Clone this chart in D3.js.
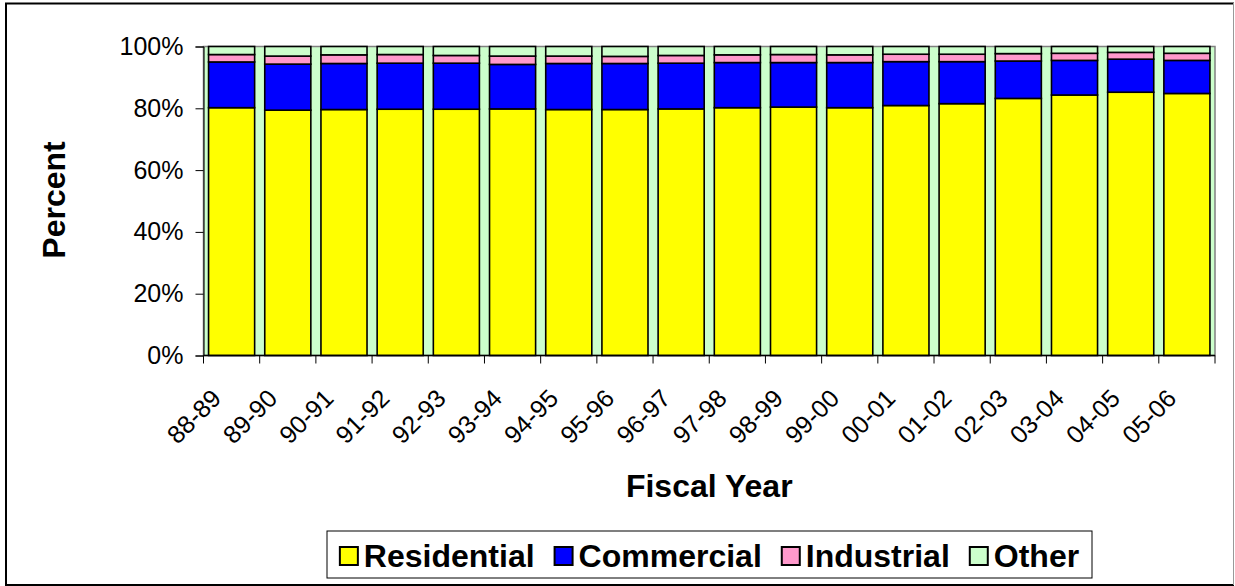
<!DOCTYPE html>
<html>
<head>
<meta charset="utf-8">
<script src="https://cdn.jsdelivr.net/npm/d3@7"></script>
<style>
  html, body { margin: 0; padding: 0; background: #fff; }
  svg { display: block; font-family: "Liberation Sans", Arial, sans-serif; }
</style>
</head>
<body>
<svg id="chart" width="1235" height="586"></svg>
<script>
// Share of accounts by customer class, per fiscal year (percent)
const years = ["88-89","89-90","90-91","91-92","92-93","93-94","94-95","95-96","96-97",
               "97-98","98-99","99-00","00-01","01-02","02-03","03-04","04-05","05-06"];
const residential = [80.2,79.4,79.6,79.7,79.7,79.8,79.6,79.6,79.8,80.2,80.4,80.2,80.9,81.5,83.2,84.3,85.2,84.8];
const commercial  = [14.8,14.9,14.9,14.9,14.9,14.4,14.9,14.9,14.8,14.6,14.4,14.6,14.2,13.6,12.1,11.2,10.7,10.7];
const industrial  = [2.4,2.6,2.8,2.8,2.5,2.7,2.4,2.3,2.5,2.5,2.6,2.5,2.4,2.4,2.4,2.3,2.2,2.3];
const other       = [2.6,3.1,2.7,2.6,2.9,3.1,3.1,3.2,2.9,2.7,2.6,2.7,2.5,2.5,2.3,2.2,1.9,2.2];
const seriesNames = ["Residential","Commercial","Industrial","Other"];
const seriesColors = ["#FFFF00","#0000FF","#FF99CC","#CCFFCC"];
const yTicks = [0,20,40,60,80,100];

const svg = d3.select("#chart");
const plot = {left: 203.5, right: 1215, top: 46.5, bottom: 355.5};

const rows = years.map((y, i) => ({
  year: y,
  Residential: residential[i],
  Commercial: commercial[i],
  Industrial: industrial[i],
  Other: other[i]
}));
const stacked = d3.stack().keys(seriesNames)(rows);

const x = d3.scaleBand().domain(years)
  .range([plot.left, plot.right]).paddingInner(0.18).paddingOuter(0.09);
const y = d3.scaleLinear().domain([0, 100]).range([plot.bottom, plot.top]);

// outer frame
svg.append("line").attr("x1",6).attr("x2",6).attr("y1",3).attr("y2",585).attr("stroke","#000").attr("stroke-width",2);
svg.append("line").attr("x1",5).attr("x2",1234).attr("y1",3.5).attr("y2",3.5).attr("stroke","#000").attr("stroke-width",2);
svg.append("line").attr("x1",5).attr("x2",1234).attr("y1",585).attr("y2",585).attr("stroke","#000").attr("stroke-width",2);
svg.append("line").attr("x1",1233.5).attr("x2",1233.5).attr("y1",3).attr("y2",585).attr("stroke","#999").attr("stroke-width",1);

// plot area background
svg.append("rect")
  .attr("x", plot.left).attr("y", plot.top)
  .attr("width", plot.right - plot.left).attr("height", plot.bottom - plot.top)
  .attr("fill", "#CCFFCC").attr("stroke", "#808080").attr("stroke-width", 1.5);

// stacked bars
svg.append("g").selectAll("g").data(stacked).join("g")
  .attr("fill", (d, i) => seriesColors[i])
  .selectAll("rect").data(d => d).join("rect")
    .attr("x", d => x(d.data.year))
    .attr("width", x.bandwidth())
    .attr("y", d => y(d[1]))
    .attr("height", d => y(d[0]) - y(d[1]))
    .attr("stroke", "#000").attr("stroke-width", 1.6);

// y axis
const yAxis = svg.append("g").attr("transform", `translate(${plot.left},0)`)
  .call(d3.axisLeft(y).tickValues(yTicks).tickSize(8).tickPadding(12).tickFormat(d => d + "%"));
yAxis.select(".domain").attr("stroke", "#000").attr("stroke-width", 1);
yAxis.selectAll(".tick line").attr("stroke", "#000");
yAxis.selectAll(".tick text")
  .attr("font-family", "Liberation Sans, Arial, sans-serif")
  .attr("font-size", 25).attr("fill", "#000");

// x axis: ticks on band boundaries
const xAxisG = svg.append("g");
xAxisG.append("line").attr("x1", plot.left).attr("x2", plot.right)
  .attr("y1", plot.bottom).attr("y2", plot.bottom).attr("stroke", "#000").attr("stroke-width", 1.5);
const step = x.step();
const boundaries = d3.range(years.length + 1).map(i => x(years[0]) - x.paddingOuter() * step + i * step);
xAxisG.selectAll("line.tk").data(boundaries).join("line").attr("class","tk")
  .attr("x1", d => d).attr("x2", d => d)
  .attr("y1", plot.bottom).attr("y2", plot.bottom + 8)
  .attr("stroke", "#000");
xAxisG.selectAll("text").data(years).join("text")
  .attr("transform", d => `translate(${x(d) + x.bandwidth() / 2 - 9},400) rotate(-45)`)
  .attr("text-anchor", "end")
  .attr("font-size", 25).attr("fill", "#000")
  .text(d => d);

// axis titles
svg.append("text")
  .attr("transform", "translate(65,200) rotate(-90)")
  .attr("text-anchor", "middle")
  .attr("font-size", 32).attr("font-weight", "bold")
  .text("Percent");
svg.append("text")
  .attr("x", (plot.left + plot.right) / 2).attr("y", 497)
  .attr("text-anchor", "middle")
  .attr("font-size", 32).attr("font-weight", "bold")
  .text("Fiscal Year");

// legend
const legendBox = {x: 327, y: 531, w: 765, h: 47};
svg.append("rect").attr("x", legendBox.x).attr("y", legendBox.y)
  .attr("width", legendBox.w).attr("height", legendBox.h)
  .attr("fill", "#fff").attr("stroke", "#000").attr("stroke-width", 1);
const lg = svg.append("g");
const items = lg.selectAll("g").data(seriesNames).join("g");
items.append("rect").attr("width", 18).attr("height", 18)
  .attr("y", 547).attr("fill", (d, i) => seriesColors[i])
  .attr("stroke", "#000").attr("stroke-width", 2);
items.append("text").attr("x", 24).attr("y", 567)
  .attr("font-size", 32).attr("font-weight", "bold").text(d => d);
let cx = 0;
const widths = [];
items.each(function() {
  widths.push(24 + d3.select(this).select("text").node().getComputedTextLength());
});
const gap = 20;
const total = d3.sum(widths) + gap * (widths.length - 1);
cx = legendBox.x + (legendBox.w - total) / 2;
items.each(function(d, i) {
  d3.select(this).attr("transform", `translate(${cx},0)`);
  cx += widths[i] + gap;
});
</script>
</body>
</html>
